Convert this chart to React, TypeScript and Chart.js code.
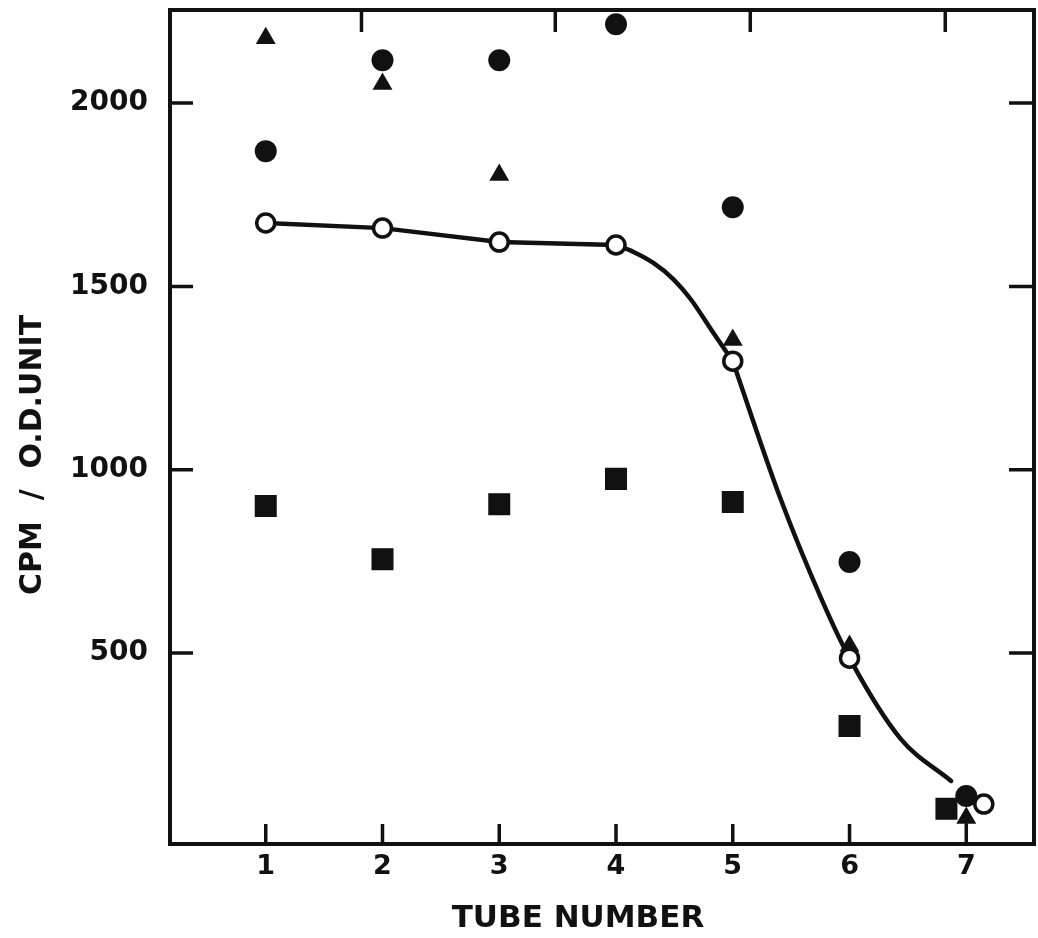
import React, { useEffect, useRef } from "react";
import { Chart, registerables } from "chart.js";

Chart.register(...registerables);

// ---- data ----
const openCircleX = [1, 2, 3, 4, 5, 6, 7.15];
const openCircleVals = [1673, 1659, 1621, 1613, 1296, 486, 88];

const filledCircleX = [1, 2, 3, 4, 5, 6, 7];
const filledCircleVals = [1869, 2117, 2117, 2215, 1716, 748, 110];

const triangleX = [1, 2, 3, 5, 6, 7];
const triangleVals = [2177, 2052, 1804, 1354, 519, 50];

const squareX = [1, 2, 3, 4, 5, 6, 6.83];
const squareVals = [901, 756, 906, 975, 912, 301, 75];

// hand-drawn line: straight plateau (tubes 1-4), a bend down to tube 5, then a smooth fall
const plateauX = [1, 2, 3, 4];
const plateauVals = [1673, 1659, 1621, 1613];
const bendX = [4, 4.15, 4.32, 4.49, 4.64, 4.82, 5];
const bendVals = [1613, 1594, 1564, 1520, 1465, 1380, 1296];
const fallX = [5, 5.41, 5.76, 6, 6.44, 6.87];
const fallVals = [1296, 920, 647, 486, 265, 151];

// small downward stem under the tube-7 triangle
const stemX = [7, 7];
const stemVals = [50, -21];

const xTicks = [1, 2, 3, 4, 5, 6, 7];
const xTickLabels = ["1", "2", "3", "4", "5", "6", "7"];
const yTicks = [500, 1000, 1500, 2000];
const yTickLabels = ["500", "1000", "1500", "2000"];
const topTicks = [1.82, 3.48, 5.15, 6.82];

const xTitle = "TUBE NUMBER";
const yTitle = "CPM  /  O.D.UNIT";

const xMin = 0.18;
const xMax = 7.58;
const yMin = -21;
const yMax = 2254;

const INK = "#111";

const pts = (xs: number[], ys: number[]) => xs.map((x, i) => ({ x, y: ys[i] }));

const lineDs = (label: string, xs: number[], ys: number[], mode: string, order: number) =>
  ({
    label,
    type: "line",
    data: pts(xs, ys),
    borderColor: INK,
    borderWidth: 4.5,
    pointRadius: 0,
    showLine: true,
    tension: mode === "straight" ? 0 : 0.4,
    cubicInterpolationMode: mode === "smooth" ? "monotone" : "default",
    borderCapStyle: "round",
    order,
  }) as any;

const framePlugin = {
  id: "frame",
  afterDraw(chart: any) {
    const { ctx, chartArea: a, scales } = chart;
    const xs = scales.x;
    const ys = scales.y;
    ctx.save();
    ctx.strokeStyle = INK;
    ctx.lineWidth = 4;
    ctx.strokeRect(a.left, a.top, a.right - a.left, a.bottom - a.top);
    ctx.lineWidth = 3.5;
    ctx.beginPath();
    yTicks.forEach((v) => {
      const y = ys.getPixelForValue(v);
      ctx.moveTo(a.left, y);
      ctx.lineTo(a.left + 23, y);
      ctx.moveTo(a.right, y);
      ctx.lineTo(a.right - 25, y);
    });
    xTicks.forEach((v) => {
      const x = xs.getPixelForValue(v);
      ctx.moveTo(x, a.bottom);
      ctx.lineTo(x, a.bottom - 20);
    });
    topTicks.forEach((v) => {
      const x = xs.getPixelForValue(v);
      ctx.moveTo(x, a.top);
      ctx.lineTo(x, a.top + 22);
    });
    ctx.stroke();

    ctx.fillStyle = INK;
    ctx.textAlign = "center";
    ctx.textBaseline = "middle";
    ctx.font = 'bold 31px "DejaVu Sans"';
    ctx.fillText(xTitle, 578, 919);

    ctx.translate(33, 455);
    ctx.rotate(-Math.PI / 2);
    ctx.font = 'bold 30px "DejaVu Sans"';
    ctx.fillText(yTitle, 0, 0);
    ctx.restore();
  },
};

export default function App() {
  const ref = useRef<HTMLCanvasElement | null>(null);

  useEffect(() => {
    document.body.style.margin = "0";
    const canvas = ref.current;
    if (!canvas) return;
    const chart = new Chart(canvas, {
      type: "scatter",
      data: {
        datasets: [
          {
            label: "open",
            data: pts(openCircleX, openCircleVals),
            pointStyle: "circle",
            pointRadius: 9,
            pointBackgroundColor: "#fff",
            pointBorderColor: INK,
            pointBorderWidth: 3.5,
            showLine: false,
            order: 0,
          } as any,
          {
            label: "filled",
            data: pts(filledCircleX, filledCircleVals),
            pointStyle: "circle",
            pointRadius: 11,
            pointBackgroundColor: INK,
            pointBorderColor: INK,
            pointBorderWidth: 0,
            showLine: false,
            order: 1,
          },
          {
            label: "triangle",
            data: pts(triangleX, triangleVals),
            pointStyle: "triangle",
            pointRadius: 11.5,
            pointBackgroundColor: INK,
            pointBorderColor: INK,
            pointBorderWidth: 0,
            showLine: false,
            order: 2,
          },
          {
            label: "square",
            data: pts(squareX, squareVals),
            pointStyle: "rect",
            pointRadius: 14.5,
            pointBackgroundColor: INK,
            pointBorderColor: INK,
            pointBorderWidth: 1.5,
            showLine: false,
            order: 3,
          },
          {
            label: "stem",
            type: "line",
            data: pts(stemX, stemVals),
            borderColor: INK,
            borderWidth: 2.5,
            pointRadius: 0,
            showLine: true,
            order: 4,
          } as any,
          lineDs("plateau", plateauX, plateauVals, "straight", 5),
          lineDs("bend", bendX, bendVals, "smooth", 6),
          lineDs("fall", fallX, fallVals, "smooth", 7),
        ],
      },
      options: {
        animation: false,
        responsive: false,
        devicePixelRatio: 1,
        layout: { autoPadding: false, padding: { top: 10, right: 4, left: 0, bottom: 0 } },
        plugins: { legend: { display: false }, tooltip: { enabled: false } },
        elements: { point: { hoverRadius: 0 } },
        scales: {
          x: {
            type: "linear",
            min: xMin,
            max: xMax,
            grid: { display: false, drawTicks: false },
            border: { display: false },
            afterFit: (s: any) => {
              s.height = 94;
              s.paddingLeft = 0;
              s.paddingRight = 0;
            },
            afterBuildTicks: (s: any) => {
              s.ticks = xTicks.map((v) => ({ value: v }));
            },
            ticks: {
              padding: 7,
              color: INK,
              font: { family: "DejaVu Sans", size: 27, weight: "bold" },
              callback: (v: any) => {
                const i = xTicks.indexOf(Number(v));
                return i >= 0 ? xTickLabels[i] : "";
              },
            },
          },
          y: {
            type: "linear",
            min: yMin,
            max: yMax,
            grid: { display: false, drawTicks: false },
            border: { display: false },
            afterFit: (s: any) => {
              s.width = 170;
              s.paddingTop = 0;
              s.paddingBottom = 0;
            },
            afterBuildTicks: (s: any) => {
              s.ticks = yTicks.map((v) => ({ value: v }));
            },
            ticks: {
              padding: 22,
              color: INK,
              font: { family: "DejaVu Sans", size: 28, weight: "bold" },
              callback: (v: any) => {
                const i = yTicks.indexOf(Number(v));
                return i >= 0 ? yTickLabels[i] : "";
              },
            },
          },
        },
      },
      plugins: [framePlugin],
    });
    return () => chart.destroy();
  }, []);

  return (
    <div style={{ position: "absolute", left: 0, top: 0, width: 1038, height: 938, background: "#fff" }}>
      <canvas ref={ref} width={1038} height={938} style={{ width: 1038, height: 938 }} />
    </div>
  );
}
